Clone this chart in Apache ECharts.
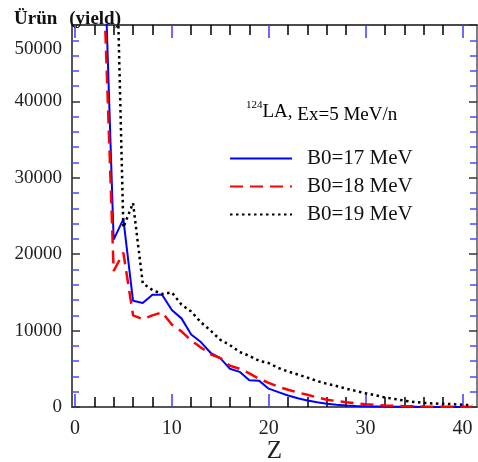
<!DOCTYPE html>
<html>
<head>
<meta charset="utf-8">
<script src="https://cdn.jsdelivr.net/npm/echarts@6/dist/echarts.min.js"></script>
<style>html,body{margin:0;padding:0;background:#fff}#c{width:478px;height:462px}</style>
</head>
<body>
<div id="c"></div>
<script>
// ---- data ----
var zValues = [3,4,5,6,7,8,9,10,11,12,13,14,15,16,17,18,19,20,21,22,23,24,25,26,27,28,29,30,31,32,33,34,35,36,37,38,39,40,41];
var yieldB017 = [61000,21900,24600,13900,13600,14700,14700,12700,11600,9500,8500,7100,6400,5000,4600,3500,3450,2400,1950,1500,1150,850,620,430,300,200,140,100,70,50,35,25,20,15,10,8,6,5,4];
var yieldB018 = [54500,17800,20200,12000,11500,12000,12400,10800,9900,8700,7800,6900,6400,5400,5000,4400,3700,3150,2650,2250,1900,1600,1250,960,780,620,480,360,280,200,150,110,80,60,45,35,25,20,15];
var yieldB019 = [null,75000,23500,26700,16200,15300,14800,15000,13400,12500,11100,10000,8800,8100,7200,6700,6050,5750,5100,4650,4250,3850,3400,3050,2750,2400,2100,1800,1550,1250,1050,830,660,530,450,430,360,300,220];
var seriesNames = ['B0=17 MeV','B0=18 MeV','B0=19 MeV'];
var xMajorTicks = [0,10,20,30,40];
var xMinorTicks = [2,4,6,8,12,14,16,18,22,24,26,28,32,34,36,38];
var yMajorTicks = [0,10000,20000,30000,40000,50000];
var yMinorTicks = [2000,4000,6000,8000,12000,14000,16000,18000,22000,24000,26000,28000,32000,34000,36000,38000,42000,44000,46000,48000];
var yLabelValues = [0,10000,20000,30000,40000,50000];
var xLabelValues = [0,10,20,30,40];

function pairs(vals){ return zValues.map(function(z,i){ return [z, vals[i]]; }); }

var FONT = '"Liberation Serif", "Times New Roman", serif';
var X_MIN = -0.3, X_MAX = 41.5, Y_MIN = 0, Y_MAX = 50000;

function xAx(pos, ticks, len, color, showLine, lineColor, lineW, showLabel){
  return {
    type:'value', position:pos, min:X_MIN, max:X_MAX,
    splitLine:{show:false},
    axisLine:{show:showLine, onZero:false, lineStyle:{color:lineColor, width:lineW}},
    axisTick:{show:true, inside:true, length:len, customValues:ticks, lineStyle:{color:color, width:1.5}},
    axisLabel:{show:showLabel, customValues:xLabelValues, margin:12, fontSize:20, color:'#222', fontFamily:FONT}
  };
}
function yAx(pos, ticks, len, color, showLine, lineColor, lineW, showLabel){
  return {
    type:'value', position:pos, min:Y_MIN, max:Y_MAX, interval:10000,
    splitLine:{show:false},
    axisLine:{show:showLine, onZero:false, lineStyle:{color:lineColor, width:lineW}},
    axisTick:{show:true, inside:true, length:len, customValues:ticks, lineStyle:{color:color, width:1.5}},
    axisLabel:{show:showLabel, customValues:yLabelValues, margin:10, fontSize:19, color:'#222', fontFamily:FONT,
      formatter:function(v){ return v===50000 ? '{top|50000}' : String(v); },
      rich:{top:{padding:[49,0,0,0], fontSize:19, color:'#222', fontFamily:FONT}}}
  };
}

var xb = xAx('bottom', xMajorTicks, 13, '#3a3aff', true, '#555', 2, true);
xb.name = 'Z'; xb.nameLocation = 'middle'; xb.nameGap = 32; xb.nameMoveOverlap = false;
xb.nameTextStyle = {fontSize:25, color:'#222', fontFamily:FONT, verticalAlign:'top', lineHeight:25};

var option = {
  animation:false,
  backgroundColor:'#fff',
  grid:{left:72, right:1, top:25, bottom:55, outerBoundsMode:'none', containLabel:false},
  title:{
    text:'{a|Ürün}{b|(yield)}', left:9, top:5,
    textStyle:{rich:{
      a:{fontSize:19, fontWeight:'bold', fontFamily:FONT, color:'#111'},
      b:{fontSize:19, fontWeight:'bold', fontFamily:FONT, color:'#111', padding:[0,0,0,12]}
    }}
  },
  xAxis:[
    xb,
    xAx('bottom', xMinorTicks, 10, '#000', false, '#555', 2, false),
    xAx('top', xMajorTicks, 13, '#3a3aff', true, '#111', 1.5, false),
    xAx('top', xMinorTicks, 10, '#000', false, '#111', 1.5, false)
  ],
  yAxis:[
    yAx('left', yMajorTicks, 8, '#333', true, '#555', 2, true),
    yAx('left', yMinorTicks, 7, '#4a4aff', false, '#555', 2, false),
    yAx('right', yMajorTicks, 8, '#333', true, '#555', 1.5, false),
    yAx('right', yMinorTicks, 7, '#4a4aff', false, '#555', 1.5, false)
  ],
  legend:{
    data:seriesNames, orient:'vertical', left:224, top:143,
    itemWidth:62, itemHeight:14, itemGap:7,
    itemStyle:{opacity:0},
    textStyle:{fontSize:21, fontFamily:FONT, color:'#111', lineHeight:20, padding:[0,0,0,10]}
  },
  graphic:[{
    type:'text', left:246, top:100,
    style:{
      text:'{s|124}{n|LA,}{e| Ex=5 MeV/n}',
      rich:{
        s:{fontSize:11, fontFamily:FONT, color:'#111', verticalAlign:'top', padding:[0,0,8,0]},
        n:{fontSize:19, fontFamily:FONT, color:'#111'},
        e:{fontSize:19, fontFamily:FONT, color:'#111', padding:[6,0,0,0]}
      }
    }
  }],
  series:[
    {name:seriesNames[0], type:'line', data:pairs(yieldB017), xAxisIndex:0, yAxisIndex:0,
     symbol:'none', lineStyle:{color:'#0000ff', width:2, type:'solid'}, itemStyle:{color:'#0000ff'}},
    {name:seriesNames[1], type:'line', data:pairs(yieldB018), xAxisIndex:0, yAxisIndex:0,
     symbol:'none', lineStyle:{color:'#ff0000', width:2.5, type:[13,7]}, itemStyle:{color:'#ff0000'}},
    {name:seriesNames[2], type:'line', data:pairs(yieldB019), xAxisIndex:0, yAxisIndex:0,
     symbol:'none', connectNulls:false, lineStyle:{color:'#000', width:2.5, type:[2.5,3.5]}, itemStyle:{color:'#000'}}
  ]
};
var chart = echarts.init(document.getElementById('c'), null, {renderer:'canvas'});
chart.setOption(option);
</script>
</body>
</html>
